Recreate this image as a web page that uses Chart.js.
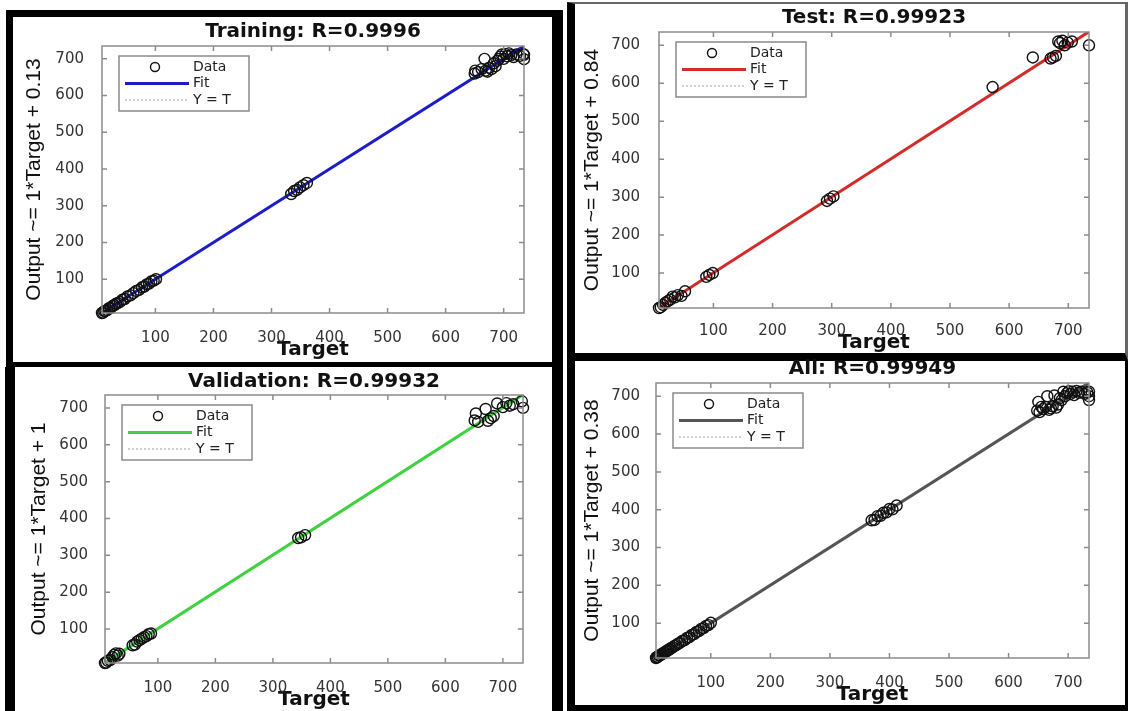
<!DOCTYPE html>
<html>
<head>
<meta charset="utf-8">
<script src="https://cdn.jsdelivr.net/npm/chart.js@4.4.1/dist/chart.umd.min.js"></script>
<style>
  html, body { margin: 0; padding: 0; background: #fff; }
  body { width: 1129px; height: 711px; position: relative; overflow: hidden; }
  .frame { position: absolute; box-sizing: border-box; }
  canvas { position: absolute; }
</style>
</head>
<body>
<div class="frame" style="left:6px;top:10px;width:557px;height:357px;border-left:7px solid #000;border-top:7px solid #000;border-right:11px solid #000;border-bottom:5px solid #000"></div>
<div class="frame" style="left:5px;top:367px;width:558px;height:344px;border-left:10px solid #000;border-right:11px solid #000"></div>
<div class="frame" style="left:567px;top:2px;width:561px;height:359px;border-left:8px solid #000;border-top:2px solid #666;border-right:3px solid #666;border-bottom:8px solid #000"></div>
<div class="frame" style="left:567px;top:361px;width:561px;height:350px;border-left:8px solid #000;border-right:3px solid #000;border-bottom:6px solid #000"></div>

<canvas id="train"></canvas>
<canvas id="test"></canvas>
<canvas id="val"></canvas>
<canvas id="all"></canvas>

<script>
// axis setup
const tickValues = [100, 200, 300, 400, 500, 600, 700];
const axisMin = 8;
const axisMax = 735;

// identity line (Y = T)
const identityT = [8, 735];
const identityO = [8, 735];

// Training
const trainT = [8, 10, 12, 14, 17, 20, 23, 26, 29, 32, 35, 39, 43, 47, 52, 57, 62, 67, 72, 77, 81, 85, 89, 93, 97, 101,
  334, 339, 344, 349, 355, 361,
  650, 651, 656, 662, 667, 669, 672, 675, 679, 683, 686, 689, 692, 694, 697, 700, 703, 706, 709, 713, 717, 722, 728, 734, 735, 735];
const trainO = [8, 9, 13, 14, 16, 21, 22, 27, 29, 33, 35, 38, 44, 46, 53, 56, 62, 68, 71, 78, 80, 86, 88, 94, 96, 100,
  332, 340, 343, 350, 356, 362,
  660, 668, 664, 672, 700, 668, 665, 676, 672, 688, 680, 695, 700, 706, 712, 700, 713, 707, 715, 710, 705, 712, 708, 713, 699, 711];
const trainFitT = [8, 735];
const trainFitO = [8.13, 735.13];

// Test
const testT = [8, 11, 15, 19, 23, 27, 31, 35, 40, 46, 52, 88, 93, 99, 292, 297, 303, 572,
  640, 670, 674, 679, 683, 686, 690, 694, 699, 706, 735];
const testO = [8, 10, 16, 22, 26, 30, 38, 36, 42, 40, 52, 90, 95, 100, 290, 296, 302, 590,
  668, 665, 668, 672, 710, 706, 712, 700, 707, 710, 700];
const testFitT = [8, 735];
const testFitO = [8.84, 735.84];

// Validation
const valT = [8, 10, 13, 17, 21, 24, 27, 30, 33, 56, 60, 64, 68, 72, 76, 80, 84, 88,
  344, 349, 356,
  651, 653, 657, 670, 674, 679, 684, 690, 700, 706, 712, 718, 733, 735];
const valO = [8, 9, 14, 16, 24, 30, 34, 28, 33, 56, 58, 66, 70, 74, 78, 81, 86, 88,
  347, 349, 355,
  666, 685, 662, 697, 665, 672, 678, 712, 702, 713, 706, 710, 718, 700];
const valFitT = [8, 735];
const valFitO = [9, 736];

// All
const allT = [8, 9, 11, 13, 15, 17, 19, 21, 23, 25, 27, 29, 31, 33, 36, 39, 42, 45, 48, 52, 56, 60, 64, 68, 72, 76, 80, 84, 88, 92, 96, 100,
  370, 375, 380, 385, 390, 395, 400, 405, 412,
  648, 650, 652, 655, 658, 662, 665, 668, 671, 674, 677, 680, 683, 686, 689, 692, 695, 698, 701, 704, 707, 710, 714, 718, 722, 728, 732, 735, 735, 735];
const allO = [8, 10, 11, 14, 15, 18, 19, 22, 23, 26, 27, 30, 31, 34, 36, 40, 42, 46, 48, 53, 55, 61, 63, 69, 71, 77, 79, 85, 87, 93, 95, 101,
  372, 373, 383, 384, 392, 393, 402, 401, 411,
  662, 685, 658, 672, 666, 672, 700, 664, 668, 673, 702, 670, 678, 695, 690, 712, 700, 708, 713, 706, 712, 703, 714, 709, 712, 706, 710, 690, 700, 712];
const allFitT = [8, 735];
const allFitO = [8.38, 735.38];

const pts = (xs, ys) => xs.map((x, i) => ({ x: x, y: ys[i] }));

// page positions of each panel (plot box, titles, labels)
const panels = [
  { id: 'train', title: 'Training: R=0.9996', yTitle: 'Output ~= 1*Target + 0.13', color: '#1c1cc8',
    T: trainT, O: trainO, fitT: trainFitT, fitO: trainFitO,
    area: { l: 102, r: 524, t: 46, b: 313 }, titleY: 32, xLabelY: 330, xTitleY: 350, yLabelRight: 92, yTitleX: 34 },
  { id: 'test', title: 'Test: R=0.99923', yTitle: 'Output ~= 1*Target + 0.84', color: '#d42a2a',
    T: testT, O: testO, fitT: testFitT, fitO: testFitO,
    area: { l: 659, r: 1089, t: 32, b: 308 }, titleY: 18, xLabelY: 323, xTitleY: 343, yLabelRight: 648, yTitleX: 592 },
  { id: 'val', title: 'Validation: R=0.99932', yTitle: 'Output ~= 1*Target + 1', color: '#3fd13f',
    T: valT, O: valO, fitT: valFitT, fitO: valFitO,
    area: { l: 105, r: 523, t: 395, b: 663 }, titleY: 382, xLabelY: 680, xTitleY: 700, yLabelRight: 96, yTitleX: 39 },
  { id: 'all', title: 'All: R=0.99949', yTitle: 'Output ~= 1*Target + 0.38', color: '#555555',
    T: allT, O: allO, fitT: allFitT, fitO: allFitO,
    area: { l: 656, r: 1089, t: 383, b: 658 }, titleY: 369, xLabelY: 675, xTitleY: 695, yLabelRight: 648, yTitleX: 592 }
];

const tickFont = { family: 'DejaVu Sans', size: 15 };
const titleFont = { family: 'DejaVu Sans', size: 20, weight: 'bold' };
const yTitleFont = { family: 'Liberation Sans', size: 21 };

// box round the axes, with inward ticks on all four sides
const axesBox = {
  id: 'axesBox',
  afterDatasetsDraw(chart) {
    const { ctx, chartArea: { left, right, top, bottom }, scales: { x, y } } = chart;
    ctx.save();
    ctx.strokeStyle = '#8c8c8c';
    ctx.lineWidth = 1.5;
    ctx.strokeRect(left, top, right - left, bottom - top);
    ctx.beginPath();
    x.ticks.forEach(t => {
      const px = x.getPixelForValue(t.value);
      ctx.moveTo(px, bottom); ctx.lineTo(px, bottom - 5);
      ctx.moveTo(px, top); ctx.lineTo(px, top + 5);
    });
    y.ticks.forEach(t => {
      const py = y.getPixelForValue(t.value);
      ctx.moveTo(left, py); ctx.lineTo(left + 5, py);
      ctx.moveTo(right, py); ctx.lineTo(right - 5, py);
    });
    ctx.stroke();
    ctx.restore();
  }
};

// matlab style legend in the top left corner of the plot
const boxLegend = {
  id: 'boxLegend',
  afterDraw(chart) {
    const { ctx, chartArea } = chart;
    const x0 = chartArea.left + 17, y0 = chartArea.top + 10, w = 130, h = 55;
    ctx.save();
    ctx.fillStyle = '#fff';
    ctx.fillRect(x0, y0, w, h);
    ctx.strokeStyle = '#8a8a8a';
    ctx.lineWidth = 1.5;
    ctx.strokeRect(x0, y0, w, h);
    chart.data.datasets.forEach((ds, i) => {
      const cy = y0 + 11 + i * 16.5;
      if (ds.showLine) {
        ctx.strokeStyle = ds.borderColor;
        ctx.lineWidth = ds.borderWidth;
        ctx.setLineDash(ds.borderDash || []);
        ctx.beginPath();
        ctx.moveTo(x0 + 6, cy);
        ctx.lineTo(x0 + 70, cy);
        ctx.stroke();
        ctx.setLineDash([]);
      } else {
        ctx.strokeStyle = ds.pointBorderColor;
        ctx.lineWidth = ds.pointBorderWidth;
        ctx.beginPath();
        ctx.arc(x0 + 36, cy, 4.5, 0, Math.PI * 2);
        ctx.stroke();
      }
      ctx.fillStyle = '#222';
      ctx.font = '14px "DejaVu Sans"';
      ctx.textBaseline = 'middle';
      ctx.textAlign = 'left';
      ctx.fillText(ds.label, x0 + 74, cy);
    });
    ctx.restore();
  }
};

panels.forEach(p => {
  const left = p.yTitleX - 15, right = p.area.r + 12;
  const top = p.titleY - 14, bottom = p.xTitleY + 14;
  const W = right - left, H = bottom - top;
  const cl = p.area.l - left, cr = p.area.r - left;
  const ct = p.area.t - top, cb = p.area.b - top;

  const canvas = document.getElementById(p.id);
  canvas.width = W; canvas.height = H;
  canvas.style.left = left + 'px';
  canvas.style.top = top + 'px';
  canvas.style.width = W + 'px';
  canvas.style.height = H + 'px';

  new Chart(canvas, {
    type: 'scatter',
    data: {
      datasets: [
        {
          label: 'Data',
          data: pts(p.T, p.O),
          showLine: false,
          pointStyle: 'circle',
          pointRadius: 5.5,
          pointBorderWidth: 1.4,
          pointBorderColor: '#111',
          pointBackgroundColor: 'rgba(0,0,0,0)',
          clip: false,
          order: 0
        },
        {
          label: 'Fit',
          data: pts(p.fitT, p.fitO),
          showLine: true,
          borderColor: p.color,
          borderWidth: 3,
          pointRadius: 0,
          order: 1
        },
        {
          label: 'Y = T',
          data: pts(identityT, identityO),
          showLine: true,
          borderColor: '#a0a0a0',
          borderWidth: 1,
          borderDash: [2, 2],
          pointRadius: 0,
          order: 2
        }
      ]
    },
    options: {
      responsive: false,
      animation: false,
      devicePixelRatio: 1,
      layout: { padding: { left: 0, top: 0, right: W - cr, bottom: 0 } },
      plugins: {
        legend: { display: false },
        tooltip: { enabled: false },
        title: {
          display: true,
          text: p.title,
          fullSize: false,
          color: '#111',
          font: titleFont,
          padding: { top: (p.titleY - top) - 12, bottom: ct - 24 - ((p.titleY - top) - 12) }
        }
      },
      scales: {
        x: {
          type: 'linear',
          min: axisMin,
          max: axisMax,
          grid: { display: false },
          border: { display: false },
          afterBuildTicks: s => { s.ticks = tickValues.map(v => ({ value: v })); },
          afterFit: s => { s.height = H - cb; },
          ticks: { font: tickFont, color: '#333', padding: (p.xLabelY - top) - cb - 9, maxRotation: 0 },
          title: {
            display: true,
            text: 'Target',
            color: '#111',
            font: titleFont,
            padding: { top: 0, bottom: (bottom - p.xTitleY) - 12 }
          }
        },
        y: {
          type: 'linear',
          min: axisMin,
          max: axisMax,
          grid: { display: false },
          border: { display: false },
          afterBuildTicks: s => { s.ticks = tickValues.map(v => ({ value: v })); },
          afterFit: s => { s.width = cl; },
          ticks: { font: tickFont, color: '#333', padding: cl - (p.yLabelRight - left) },
          title: {
            display: true,
            text: p.yTitle,
            color: '#111',
            font: yTitleFont,
            padding: { top: (p.yTitleX - left) - 12.6, bottom: 0 }
          }
        }
      }
    },
    plugins: [axesBox, boxLegend]
  });
});
</script>
</body>
</html>
